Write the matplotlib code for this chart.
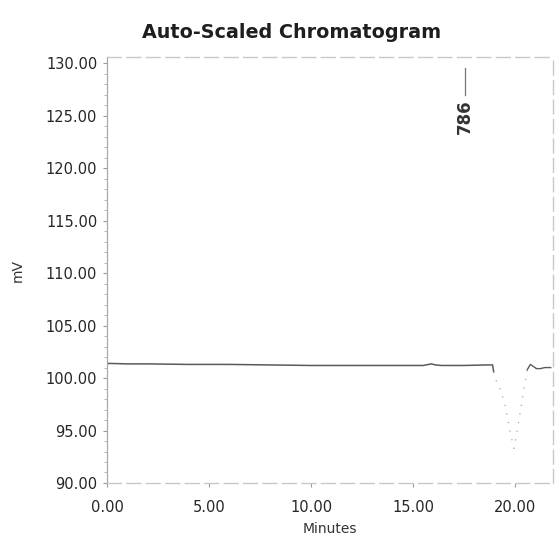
import matplotlib
matplotlib.use("Agg")
import matplotlib.pyplot as plt
from matplotlib.ticker import MultipleLocator, FormatStrFormatter

plt.rcParams['font.family'] = ['DejaVu Sans']

# Detector trace (minutes, mV)
baseline_min = [0.00, 0.03, 1.0, 2.0, 4.0, 6.0, 8.0, 10.0, 12.0, 14.0,
                15.5, 15.9, 16.1, 16.4, 17.5, 18.6, 18.9, 18.95]
baseline_mv = [101.0, 101.4, 101.35, 101.35, 101.3, 101.3, 101.25, 101.2, 101.2, 101.2,
               101.2, 101.35, 101.25, 101.2, 101.2, 101.25, 101.25, 100.6]

dip_min = [18.95, 19.1, 19.3, 19.5, 19.8, 19.95, 20.15, 20.4, 20.6]
dip_mv = [100.6, 99.6, 98.8, 97.5, 94.5, 93.3, 95.5, 98.5, 100.8]

tail_min = [20.6, 20.75, 20.9, 21.05, 21.25, 21.45, 21.75]
tail_mv = [100.8, 101.3, 101.1, 100.9, 100.9, 101.0, 101.0]

peak_time = 17.55
peak_label = "786"

x_ticks = [0, 5, 10, 15, 20]
y_ticks = [90, 95, 100, 105, 110, 115, 120, 125, 130]

fig = plt.figure(figsize=(5.56, 5.40), dpi=100)
ax = fig.add_axes([0.1924, 0.1056, 0.8022, 0.7888])

ax.plot(baseline_min, baseline_mv, color='#5a5a5a', lw=1.1)
ax.plot(dip_min, dip_mv, color='#a5a5a5', lw=0.9, ls=(0, (1, 6)))
ax.plot(tail_min, tail_mv, color='#5a5a5a', lw=1.0)

ax.set_xlim(0, 21.86)
ax.set_ylim(90, 130.6)

ax.yaxis.set_minor_locator(MultipleLocator(1))
ax.xaxis.set_major_formatter(FormatStrFormatter('%.2f'))
ax.yaxis.set_major_formatter(FormatStrFormatter('%.2f'))
ax.set_xticks(x_ticks)
ax.set_yticks(y_ticks)

for side in ['top', 'right', 'bottom']:
    ax.spines[side].set_color('#c8c8c8')
    ax.spines[side].set_linewidth(1.0)
    ax.spines[side].set_linestyle((0, (10, 4)))
ax.spines['left'].set_color('#a8a8a8')
ax.spines['left'].set_linewidth(0.9)

ax.tick_params(axis='both', which='major', labelsize=10.5, colors='#999999',
               labelcolor='#262626', length=3, width=0.8)
ax.tick_params(axis='x', which='major', pad=9)
ax.tick_params(axis='y', which='major', pad=4)
ax.tick_params(axis='y', which='minor', length=2, width=0.6, colors='#b0b0b0')

# Peak annotation
ax.plot([peak_time, peak_time], [127.0, 129.6], color='#777777', lw=0.9)
ax.text(peak_time, 126.6, peak_label, rotation=90, ha='center', va='top',
        fontsize=12, fontweight='bold', color='#333333')

fig.text(0.525, 0.94, "Auto-Scaled Chromatogram", fontsize=13.8, fontweight='bold',
         color='#1e1e1e', ha='center', va='center')
ax.set_xlabel("Minutes", fontsize=10, color='#333333', labelpad=5)
fig.text(18 / 556, 0.5, "mV", rotation=90, fontsize=10, color='#333333',
         ha='center', va='center')

fig.savefig("out.png", dpi=100, facecolor='white')
